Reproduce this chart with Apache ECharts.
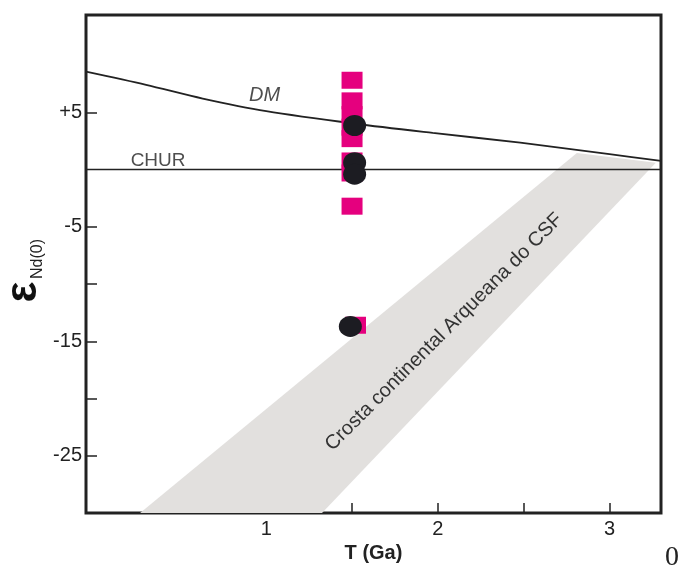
<!DOCTYPE html>
<html><head><meta charset="utf-8">
<script src="https://cdn.jsdelivr.net/npm/echarts@6/dist/echarts.min.js"></script>
<style>html,body{margin:0;padding:0;background:#fff}#c{width:678px;height:570px}</style>
</head><body><div id="c"></div>
<script>
// T (Ga) vs epsilon Nd(0)
const dmCurve = [[-0.05,8.55],[0.3,7.4],[0.63,6.2],[1.0,5.1],[1.52,4.0],[1.97,3.2],[2.48,2.35],[3.0,1.35],[3.3,0.75]];
const churLine = [[-0.05,0],[3.3,0]];
const crustBand = [[0.265,-30],[1.325,-30],[3.27,0.6],[2.81,1.45]];
const squarePoints = [[1.5,7.8],[1.5,6.0],[1.5,4.8],[1.5,3.7],[1.5,2.7],[1.5,0.75],[1.5,-0.3],[1.5,-3.2],[1.52,-13.6]];
const dotPoints = [[1.515,3.85],[1.515,0.6],[1.515,-0.4],[1.49,-13.7]];
const xTicks = [0.5,1,1.5,2,2.5,3];
const xLabels = [1,2,3];
const yTicks = [5,-5,-10,-15,-20,-25];
const yLabels = [5,-5,-15,-25];
const curveLabels = [{name:'DM', value:[0.99,6.5]},{name:'CHUR', value:[0.37,0.75]}];
const bandLabel = {text:'Crosta continental Arqueana do CSF', at:[2.036,-14.2]};

const chart = echarts.init(document.getElementById('c'));
const font = 'Liberation Sans';
chart.setOption({
  animation:false,
  backgroundColor:'#ffffff',
  grid:{left:86,right:17,top:15,bottom:57,outerBoundsMode:'none',containLabel:false,show:true,borderColor:'#222',borderWidth:3,backgroundColor:'transparent'},
  xAxis:{type:'value',min:-0.05,max:3.3,
    name:'T (Ga)',nameLocation:'middle',nameGap:30,
    nameTextStyle:{fontFamily:font,fontWeight:'bold',fontSize:20,color:'#222'},
    axisLine:{show:false,onZero:false},
    axisTick:{show:true,inside:true,length:10,customValues:xTicks,lineStyle:{color:'#222',width:1.5}},
    axisLabel:{customValues:xLabels,fontFamily:font,fontSize:20,color:'#222',margin:6},
    splitLine:{show:false}},
  yAxis:{type:'value',min:-30,max:13.5,
    axisLine:{show:false,onZero:false},
    axisTick:{show:true,inside:true,length:11,customValues:yTicks,lineStyle:{color:'#222',width:1.5}},
    axisLabel:{customValues:yLabels,fontFamily:font,fontSize:20,color:'#222',margin:4,
      formatter:v=> v>0 ? '+'+v : String(v)},
    splitLine:{show:false}},
  graphic:[
    {type:'text',x:24,y:292,rotation:Math.PI/2,style:{text:'ε',font:'bold 44px Liberation Sans',fill:'#111',align:'center',verticalAlign:'middle'}},
    {type:'text',x:38,y:259,rotation:Math.PI/2,style:{text:'Nd(0)',font:'16px Liberation Sans',fill:'#222',align:'center',verticalAlign:'middle'}},
    {type:'text',x:672,y:558,style:{text:'0',font:'28px Liberation Serif',fill:'#222',align:'center',verticalAlign:'middle'}}
  ],
  series:[
    {type:'custom',coordinateSystem:'cartesian2d',z:1,data:[[0,0]],silent:true,
      renderItem:(params,api)=>{
        const pts = crustBand.map(p=>api.coord(p));
        const c = api.coord(bandLabel.at);
        return {type:'group',children:[
          {type:'polygon',shape:{points:pts},style:{fill:'#e2e0de'}},
          {type:'text',x:c[0],y:c[1],rotation:Math.PI/4,style:{text:bandLabel.text,font:'20px Liberation Sans',fill:'#333',align:'center',verticalAlign:'middle'}}
        ]};
      }},
    {type:'line',data:dmCurve,smooth:0.3,symbol:'none',z:3,lineStyle:{color:'#222',width:1.8}},
    {type:'line',data:churLine,symbol:'none',z:3,lineStyle:{color:'#222',width:1.6}},
    {type:'scatter',data:squarePoints,symbol:'rect',symbolSize:[21,17],z:4,itemStyle:{color:'#e5007e',opacity:1}},
    {type:'scatter',data:dotPoints,symbol:'circle',symbolSize:[23,21],z:5,itemStyle:{color:'#1c1c22',opacity:1}},
    {type:'scatter',symbolSize:0,z:6,
      label:{show:true,position:'inside',formatter:'{b}',fontFamily:font,fontSize:19,color:'#222'},
      data:[
        {name:curveLabels[0].name,value:curveLabels[0].value,label:{fontStyle:'italic',fontSize:20}},
        {name:curveLabels[1].name,value:curveLabels[1].value}
      ]}
  ]
});
</script></body></html>
